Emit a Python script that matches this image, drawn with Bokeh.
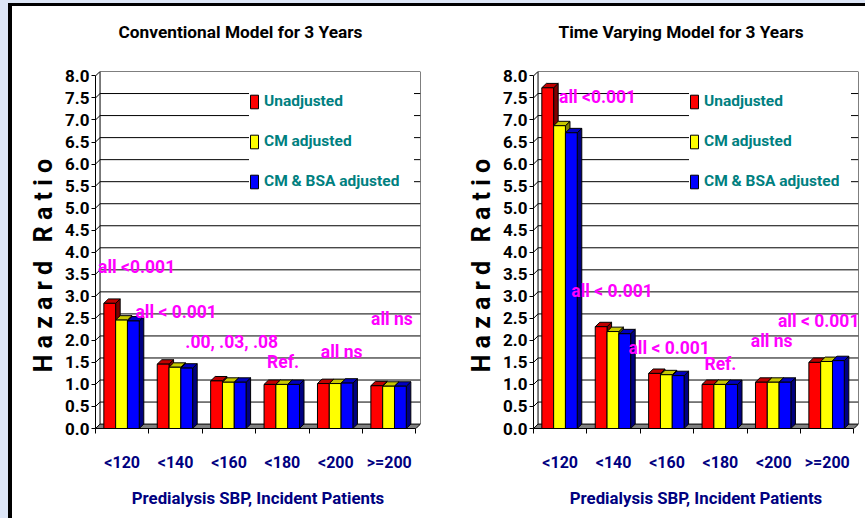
import math
from bokeh.plotting import figure
from bokeh.models import (Range1d, FixedTicker, Label, Legend, LegendItem, Div,
                          PrintfTickFormatter, Title)
from bokeh.layouts import row, column
from bokeh.embed import file_html
from bokeh.resources import INLINE

# ---------------- data ----------------
categories = ["<120", "<140", "<160", "<180", "<200", ">=200"]
series_names = ["Unadjusted", "CM adjusted", "CM & BSA adjusted"]

conv_unadjusted = [2.84, 1.46, 1.08, 1.00, 1.02, 0.97]
conv_cm = [2.46, 1.39, 1.05, 1.00, 1.02, 0.96]
conv_cm_bsa = [2.44, 1.37, 1.05, 1.00, 1.03, 0.96]

tv_unadjusted = [7.73, 2.31, 1.25, 1.00, 1.05, 1.50]
tv_cm = [6.87, 2.20, 1.22, 1.00, 1.05, 1.52]
tv_cm_bsa = [6.71, 2.15, 1.20, 1.00, 1.05, 1.54]

y_ticks = [0.0, 0.5, 1.0, 1.5, 2.0, 2.5, 3.0, 3.5, 4.0,
           4.5, 5.0, 5.5, 6.0, 6.5, 7.0, 7.5, 8.0]

conv_notes = ["all <0.001", "all < 0.001", ".00, .03, .08", "Ref.", "all ns", "all ns"]
tv_notes = ["all <0.001", "all < 0.001", "all < 0.001", "Ref.", "all ns", "all < 0.001"]

conv_title = "Conventional Model for 3 Years"
tv_title = "Time Varying Model for 3 Years"
x_title = "Predialysis SBP, Incident Patients"
NB = "\u00a0"
y_title = NB.join("Hazard") + NB * 3 + NB.join("Ratio") + NB * 5

# ---------------- style ----------------
FONT = "Roboto"
front_colors = ["#FF0000", "#FFFF00", "#0000FF"]
top_colors = ["#C00000", "#C8C800", "#0000C0"]
side_colors = ["#800000", "#808000", "#000080"]
NOTE_COLOR = "#FF00FF"
LEGEND_COLOR = "#008080"
NAVY = "#000080"

DX, DY = 0.085, 0.10      # 3-D depth in data units
BAR_W = 0.221
GROUP_START = -0.5 + 0.156


def make_chart(title, title_offset, series, notes, note_pos, width, left_b, right_b,
               legend_loc, legend_label_w):
    n = len(categories)
    p = figure(width=width, height=512,
               x_range=Range1d(-0.5, n - 0.5 + DX), y_range=Range1d(0, 8.1),
               output_backend="svg", toolbar_location=None,
               min_border_left=left_b, min_border_right=right_b,
               min_border_top=65, min_border_bottom=90)
    p.xgrid.visible = False
    p.ygrid.visible = False
    p.outline_line_color = None
    p.background_fill_color = "white"
    p.border_fill_color = "white"

    # spacer title (closest to the frame) then the real title above it
    p.add_layout(Title(text=NB, text_font_size="1px", standoff=27), "above")
    p.add_layout(Title(text=title, align="left", offset=title_offset, standoff=0,
                       text_font=FONT, text_font_style="bold",
                       text_font_size="17.3px", text_color="black"), "above")

    # floor
    p.patch([-0.5, n - 0.5, n - 0.5 + DX, -0.5 + DX], [0, 0, DY, DY],
            fill_color="#808080", line_color="black", line_width=1)
    # back wall grid lines
    gl = y_ticks[1:]
    p.segment(x0=[-0.5 + DX] * len(gl), y0=[t + DY for t in gl],
              x1=[n - 0.5 + DX] * len(gl), y1=[t + DY for t in gl],
              line_color="black", line_width=1)
    # side wall connectors
    p.segment(x0=[-0.5] * len(gl), y0=gl, x1=[-0.5 + DX] * len(gl),
              y1=[t + DY for t in gl], line_color="black", line_width=1)
    # back wall edges
    top_v = y_ticks[-1] + DY
    p.segment(x0=[-0.5 + DX, n - 0.5 + DX], y0=[DY, DY],
              x1=[-0.5 + DX, n - 0.5 + DX], y1=[top_v, top_v],
              line_color="black", line_width=1)

    renderers = []
    for j, vals in enumerate(series):
        x0 = [i + GROUP_START + j * BAR_W for i in range(n)]
        x1 = [a + BAR_W for a in x0]
        p.patches(xs=[[b, b + DX, b + DX, b] for b in x1],
                  ys=[[0, DY, v + DY, v] for v in vals],
                  fill_color=side_colors[j], line_color="black", line_width=1)
        p.patches(xs=[[a, b, b + DX, a + DX] for a, b in zip(x0, x1)],
                  ys=[[v, v, v + DY, v + DY] for v in vals],
                  fill_color=top_colors[j], line_color="black", line_width=1)
        r = p.quad(left=x0, right=x1, bottom=0, top=vals,
                   fill_color=front_colors[j], line_color="black", line_width=1)
        renderers.append(r)

    # notes
    for txt, (nx, ny) in zip(notes, note_pos):
        p.add_layout(Label(x=nx, y=ny, text=txt, text_color=NOTE_COLOR,
                           text_font=FONT, text_font_style="bold",
                           text_font_size="17.5px", text_align="center",
                           text_baseline="middle"))

    # axes
    ya = p.yaxis[0]
    ya.ticker = FixedTicker(ticks=y_ticks)
    ya.formatter = PrintfTickFormatter(format="%.1f")
    ya.bounds = (0, 8)
    ya.major_tick_out = 4
    ya.major_tick_in = 0
    ya.minor_tick_out = 0
    ya.minor_tick_in = 0
    ya.major_label_standoff = 2
    ya.major_label_text_font = FONT
    ya.major_label_text_font_style = "bold"
    ya.major_label_text_font_size = "17px"
    ya.major_label_text_color = "black"
    ya.axis_line_color = "black"
    ya.axis_label = y_title
    ya.axis_label_standoff = 4
    ya.axis_label_text_font = FONT
    ya.axis_label_text_font_style = "bold"
    ya.axis_label_text_font_size = "25px"
    ya.axis_label_text_color = "black"

    xa = p.xaxis[0]
    xa.ticker = FixedTicker(ticks=list(range(n)),
                            minor_ticks=[i - 0.5 for i in range(n + 1)])
    xa.major_label_overrides = {i: c for i, c in enumerate(categories)}
    xa.bounds = (-0.5, n - 0.5)
    xa.major_tick_out = 0
    xa.major_tick_in = 0
    xa.minor_tick_out = 5
    xa.minor_tick_in = 0
    xa.major_label_standoff = 19
    xa.major_label_text_font = FONT
    xa.major_label_text_font_style = "bold"
    xa.major_label_text_font_size = "16px"
    xa.major_label_text_color = NAVY
    xa.axis_line_color = "black"
    xa.axis_label = x_title
    xa.axis_label_standoff = 13
    xa.axis_label_text_font = FONT
    xa.axis_label_text_font_style = "bold"
    xa.axis_label_text_font_size = "16.8px"
    xa.axis_label_text_color = NAVY

    legend = Legend(items=[LegendItem(label=nm, renderers=[r])
                           for nm, r in zip(series_names, renderers)],
                    location=legend_loc)
    legend.glyph_width = 10
    legend.glyph_height = 17
    legend.label_standoff = 5
    legend.label_width = legend_label_w
    legend.spacing = 22
    legend.padding = 5
    legend.margin = 0
    legend.border_line_color = None
    legend.background_fill_color = "white"
    legend.background_fill_alpha = 1.0
    legend.label_text_font = FONT
    legend.label_text_font_style = "bold"
    legend.label_text_font_size = "15.5px"
    legend.label_text_color = LEGEND_COLOR
    p.add_layout(legend)
    return p


conv_pos = [(0.27, 3.66), (1.01, 2.64), (2.05, 1.96), (3.01, 1.50), (4.11, 1.73), (5.05, 2.49)]
tv_pos = [(0.70, 7.53), (0.97, 3.12), (2.04, 1.83), (3.00, 1.47), (3.96, 1.98), (4.84, 2.44)]

p1 = make_chart(conv_title, 23, [conv_unadjusted, conv_cm, conv_cm_bsa], conv_notes, conv_pos,
                430, 83, 22, (154, 238), 150)
p2 = make_chart(tv_title, 25, [tv_unadjusted, tv_cm, tv_cm_bsa], tv_notes, tv_pos,
                423, 91, 7, (156, 238), 147)

BG = "#dde6f7"
top_strip = Div(text="", width=865, height=3, margin=0, styles={"background-color": BG})
left_strip = Div(text="", width=8, height=515, margin=0, styles={"background-color": BG})
black_top = Div(text="", width=857, height=3, margin=0, styles={"background-color": "black"})
black_left = Div(text="", width=4, height=512, margin=0, styles={"background-color": "black"})

layout = column(top_strip,
                row(left_strip, column(black_top, row(black_left, p1, p2, spacing=0), spacing=0), spacing=0),
                spacing=0)

open("out.html", "w").write(file_html(layout, INLINE))
